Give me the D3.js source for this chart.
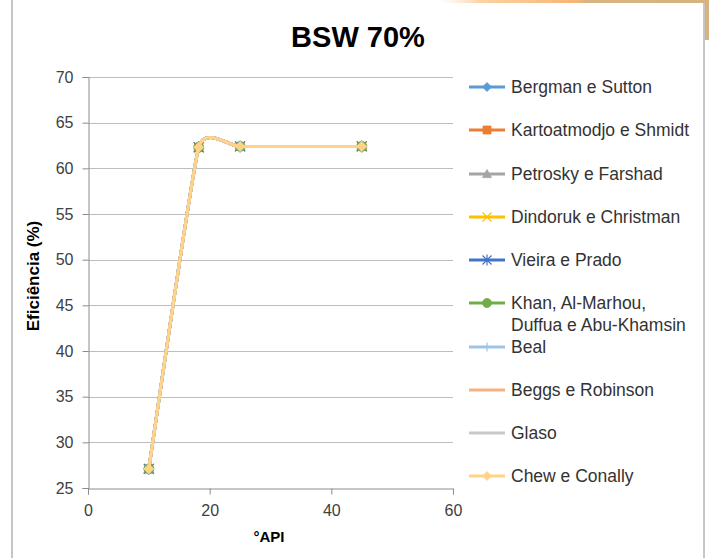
<!DOCTYPE html>
<html>
<head>
<meta charset="utf-8">
<script src="https://cdn.jsdelivr.net/npm/d3@7"></script>
<style>
  html, body { margin: 0; padding: 0; background: #fff; }
  svg { display: block; }
  text { font-family: "Liberation Sans", "DejaVu Sans", sans-serif; }
</style>
</head>
<body>
<svg id="chart" width="709" height="558"></svg>
<script>
// Grau API das amostras
const apiValues = [10, 18.2, 25, 45];

// Eficiência (%) por correlação
const bergmanSutton      = [27.1, 62.3, 62.4, 62.4];
const kartoatmodjo       = [27.1, 62.3, 62.4, 62.4];
const petroskyFarshad    = [27.1, 62.3, 62.4, 62.4];
const dindorukChristman  = [27.1, 62.3, 62.4, 62.4];
const vieiraPrado        = [27.1, 62.3, 62.4, 62.4];
const khanEtAl           = [27.1, 62.3, 62.4, 62.4];
const beal               = [27.1, 62.3, 62.4, 62.4];
const beggsRobinson      = [27.1, 62.3, 62.4, 62.4];
const glaso              = [27.1, 62.3, 62.4, 62.4];
const chewConally        = [27.1, 62.3, 62.4, 62.4];

const seriesNames = [
  "Bergman e Sutton",
  "Kartoatmodjo e Shmidt",
  "Petrosky e Farshad",
  "Dindoruk e Christman",
  "Vieira e Prado",
  ["Khan, Al-Marhou,", "Duffua e Abu-Khamsin"],
  "Beal",
  "Beggs e Robinson",
  "Glaso",
  "Chew e Conally"
];
const seriesValues = [bergmanSutton, kartoatmodjo, petroskyFarshad, dindorukChristman,
  vieiraPrado, khanEtAl, beal, beggsRobinson, glaso, chewConally];
const seriesColors = ["#5b9bd5", "#ed7d31", "#a5a5a5", "#ffc000", "#4472c4",
  "#70ad47", "#9dc3e6", "#f4b183", "#c9c9c9", "#ffd38a"];
const seriesMarkers = ["diamond", "square", "triangle", "x", "star", "circle", "plus", null, null, "diamond"];

const xTicks = [0, 20, 40, 60];
const yTicks = [25, 30, 35, 40, 45, 50, 55, 60, 65, 70];

const svg = d3.select("#chart");

// Moldura e detalhe decorativo superior
const grad = svg.append("defs").append("linearGradient")
  .attr("id", "topGrad").attr("x1", "0").attr("x2", "1");
grad.append("stop").attr("offset", "0").attr("stop-color", "#fde2c0").attr("stop-opacity", 0);
grad.append("stop").attr("offset", "0.15").attr("stop-color", "#fbd3a4");
grad.append("stop").attr("offset", "0.5").attr("stop-color", "#f7b574");
grad.append("stop").attr("offset", "0.55").attr("stop-color", "#d9b384");
grad.append("stop").attr("offset", "1").attr("stop-color", "#d6b283");
svg.append("rect").attr("x", 440).attr("y", 0).attr("width", 269).attr("height", 3).attr("fill", "url(#topGrad)");
svg.append("rect").attr("x", 705).attr("y", 0).attr("width", 4).attr("height", 40).attr("fill", "#d6b283");
svg.append("line").attr("x1", 12).attr("x2", 12).attr("y1", 0).attr("y2", 558)
  .attr("stroke", "#8c8c8c").attr("stroke-width", 1);
svg.append("line").attr("x1", 704).attr("x2", 704).attr("y1", 3).attr("y2", 558)
  .attr("stroke", "#8c8c8c").attr("stroke-width", 1);

const x = d3.scaleLinear().domain([0, 60]).range([88, 453]);
const y = d3.scaleLinear().domain([25, 70]).range([488, 77]);

// Grade horizontal
svg.append("g").selectAll("line").data(yTicks.filter(d => d !== 25)).join("line")
  .attr("x1", x(0)).attr("x2", x(60))
  .attr("y1", d => Math.round(y(d)) + 0.5).attr("y2", d => Math.round(y(d)) + 0.5)
  .attr("stroke", "#bdbdbd").attr("stroke-width", 1.2);

// Eixo Y
const yAxis = svg.append("g").attr("transform", `translate(${Math.round(x(0)) + 0.5},0)`)
  .call(d3.axisLeft(y).tickValues(yTicks).tickSize(6).tickPadding(9));
// Eixo X
const xAxis = svg.append("g").attr("transform", `translate(0,${Math.round(y(25)) + 0.5})`)
  .call(d3.axisBottom(x).tickValues(xTicks).tickSize(6).tickPadding(10));
[yAxis, xAxis].forEach(a => {
  a.select(".domain").attr("stroke", "#8c8c8c");
  a.selectAll(".tick line").attr("stroke", "#8c8c8c");
  a.selectAll(".tick text").attr("fill", "#404040")
    .style("font-family", "'Liberation Sans', sans-serif").style("font-size", "16px");
});

// Título e rótulos dos eixos
svg.append("text").attr("x", 358).attr("y", 47).attr("text-anchor", "middle")
  .style("font-size", "29px").style("font-weight", "bold").attr("fill", "#000").text("BSW 70%");
svg.append("text").attr("x", 269).attr("y", 542).attr("text-anchor", "middle")
  .style("font-size", "15px").style("font-weight", "bold").attr("fill", "#000").text("°API");
svg.append("text").attr("transform", "translate(39,276) rotate(-90)").attr("text-anchor", "middle")
  .style("font-size", "17px").style("font-weight", "bold").attr("fill", "#000").text("Eficiência (%)");

function markerPath(type, size) {
  const s = size;
  switch (type) {
    case "diamond": return `M0,${-s}L${s},0L0,${s}L${-s},0Z`;
    case "square": return `M${-s},${-s}H${s}V${s}H${-s}Z`;
    case "triangle": return `M0,${-s}L${s},${s * 0.8}L${-s},${s * 0.8}Z`;
    case "x": return `M${-s},${-s}L${s},${s}M${s},${-s}L${-s},${s}`;
    case "star": return `M${-s},${-s}L${s},${s}M${s},${-s}L${-s},${s}M0,${-s * 1.2}V${s * 1.2}`;
    case "plus": return `M${-s},0H${s}M0,${-s}V${s}`;
    case "circle": return d3.symbol(d3.symbolCircle, Math.PI * s * s)();
  }
  return "";
}
const filled = { diamond: true, square: true, triangle: true, circle: true };

// Linha suavizada
const line = d3.line().x(d => x(d[0])).y(d => y(d[1])).curve(d3.curveCardinal.tension(0.6));

const plot = svg.append("g");
seriesValues.forEach((vals, i) => {
  const pts = apiValues.map((a, k) => [a, vals[k]]);
  const g = plot.append("g");
  g.append("path").attr("d", line(pts)).attr("fill", "none")
    .attr("stroke", seriesColors[i]).attr("stroke-width", 3).attr("stroke-linecap", "round");
  const m = seriesMarkers[i];
  if (m) {
    g.selectAll("path.mk").data(pts).join("path").attr("class", "mk")
      .attr("transform", d => `translate(${x(d[0])},${y(d[1])})`)
      .attr("d", markerPath(m, m === "square" ? 4 : 5))
      .attr("fill", filled[m] ? seriesColors[i] : "none")
      .attr("stroke", seriesColors[i]).attr("stroke-width", filled[m] ? 0.8 : 1.2);
  }
});

// Legenda
const legendRows = [87, 130, 174, 217, 260, 303, 347, 390, 433, 476];
const legend = svg.append("g");
seriesNames.forEach((name, i) => {
  const ly = legendRows[i];
  const g = legend.append("g").attr("transform", `translate(0,${ly})`);
  g.append("line").attr("x1", 469).attr("x2", 505).attr("y1", 0).attr("y2", 0)
    .attr("stroke", seriesColors[i]).attr("stroke-width", 3);
  const m = seriesMarkers[i];
  if (m) {
    g.append("path").attr("transform", "translate(487,0)")
      .attr("d", markerPath(m, m === "square" ? 4 : 4.5))
      .attr("fill", filled[m] ? seriesColors[i] : "none")
      .attr("stroke", seriesColors[i]).attr("stroke-width", filled[m] ? 0.8 : 1.2);
  }
  const lines = Array.isArray(name) ? name : [name];
  lines.forEach((t, k) => {
    g.append("text").attr("x", 511).attr("y", 6 + k * 22)
      .style("font-size", "17.5px").attr("fill", "#333").text(t);
  });
});
</script>
</body>
</html>
